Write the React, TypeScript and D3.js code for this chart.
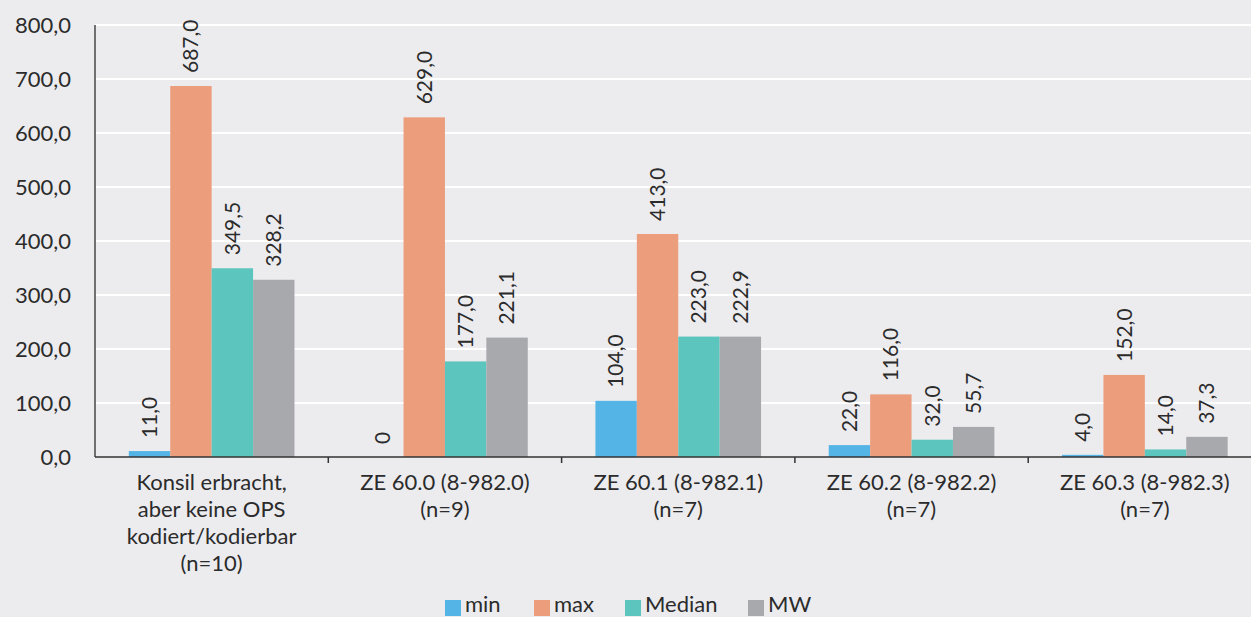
import React from "react";
import * as d3 from "d3";

const categories: string[][] = [
  ["Konsil erbracht,", "aber keine OPS", "kodiert/kodierbar", "(n=10)"],
  ["ZE 60.0 (8-982.0)", "(n=9)"],
  ["ZE 60.1 (8-982.1)", "(n=7)"],
  ["ZE 60.2 (8-982.2)", "(n=7)"],
  ["ZE 60.3 (8-982.3)", "(n=7)"],
];
const seriesNames = ["min", "max", "Median", "MW"];
const minValues = [11.0, 0, 104.0, 22.0, 4.0];
const maxValues = [687.0, 629.0, 413.0, 116.0, 152.0];
const medianValues = [349.5, 177.0, 223.0, 32.0, 14.0];
const mwValues = [328.2, 221.1, 222.9, 55.7, 37.3];
const valueLabels = [
  ["11,0", "0", "104,0", "22,0", "4,0"],
  ["687,0", "629,0", "413,0", "116,0", "152,0"],
  ["349,5", "177,0", "223,0", "32,0", "14,0"],
  ["328,2", "221,1", "222,9", "55,7", "37,3"],
];
const yTicks = [0, 100, 200, 300, 400, 500, 600, 700, 800];
const colors = ["#55B4E6", "#EB9D7C", "#5CC5BD", "#A8A9AD"];

const W = 1251;
const H = 617;
const FONT = "Lato, 'Noto Sans', sans-serif";

export default function App() {
  const series = [minValues, maxValues, medianValues, mwValues];
  const catIdx = categories.map((_, i) => String(i));
  const x0 = d3
    .scaleBand<string>()
    .domain(catIdx)
    .range([95, 1261.5])
    .paddingInner(0.29)
    .paddingOuter(0.145);
  const x1 = d3
    .scaleBand<string>()
    .domain(seriesNames)
    .range([0, x0.bandwidth()]);
  const y = d3.scaleLinear().domain([0, 800]).range([457, 25]);
  const step = x0.step();

  return (
    <svg
      width={W}
      height={H}
      style={{ position: "absolute", left: 0, top: 0, background: "#ECECEF" }}
      fontFamily={FONT}
    >
      <rect x={0} y={0} width={W} height={H} fill="#ECECEF" />
      {yTicks.map((t) => (
        <g key={t}>
          {t > 0 && (
            <line x1={95} x2={W} y1={y(t)} y2={y(t)} stroke="#FFFFFF" strokeWidth={2} />
          )}
          <text
            x={71}
            y={y(t)}
            dy="0.35em"
            textAnchor="end"
            fontSize={22}
            fill="#2B2B2B"
          >
            {d3.format(".1f")(t).replace(".", ",")}
          </text>
        </g>
      ))}
      {series.map((vals, si) =>
        vals.map((v, ci) => {
          const bx = (x0(String(ci)) as number) + (x1(seriesNames[si]) as number);
          const bw = x1.bandwidth();
          return (
            <g key={`${si}-${ci}`}>
              <rect x={bx} y={y(v)} width={bw} height={457 - y(v)} fill={colors[si]} />
              <text
                transform={`translate(${bx + bw / 2},${y(v) - 13}) rotate(-90)`}
                dy="0.35em"
                textAnchor="start"
                fontSize={21}
                fill="#2B2B2B"
              >
                {valueLabels[si][ci]}
              </text>
            </g>
          );
        })
      )}
      <line x1={95} x2={95} y1={25} y2={457} stroke="#707070" strokeWidth={2} />
      <line x1={95} x2={W} y1={457} y2={457} stroke="#333333" strokeWidth={1.5} />
      {categories.map((_, i) =>
        i > 0 ? (
          <line
            key={i}
            x1={95 + i * step}
            x2={95 + i * step}
            y1={457}
            y2={463}
            stroke="#333333"
            strokeWidth={1.5}
          />
        ) : null
      )}
      {categories.map((lines, i) => (
        <text
          key={i}
          x={(x0(String(i)) as number) + x0.bandwidth() / 2}
          y={482}
          textAnchor="middle"
          fontSize={22}
          fill="#2B2B2B"
        >
          {lines.map((l, li) => (
            <tspan key={li} x={(x0(String(i)) as number) + x0.bandwidth() / 2} y={482 + li * 27} dy="0.35em">
              {l}
            </tspan>
          ))}
        </text>
      ))}
      {seriesNames.map((n, i) => {
        const lx = [445, 534, 625, 748][i];
        return (
          <g key={n}>
            <rect x={lx} y={600} width={16} height={16} fill={colors[i]} />
            <text x={lx + 20} y={604} dy="0.35em" fontSize={22} fill="#2B2B2B">
              {n}
            </text>
          </g>
        );
      })}
    </svg>
  );
}
